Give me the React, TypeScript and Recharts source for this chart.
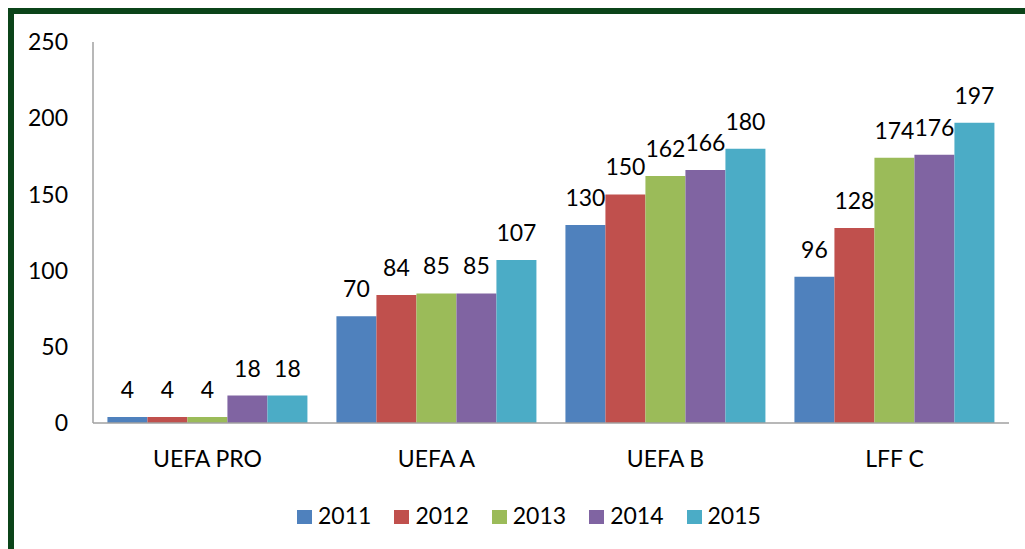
import React from 'react';
import { BarChart, Bar, XAxis, YAxis, Legend, LabelList } from 'recharts';

const categories = ['UEFA PRO', 'UEFA A', 'UEFA B', 'LFF C'];
const seriesNames = ['2011', '2012', '2013', '2014', '2015'];
const values2011 = [4, 70, 130, 96];
const values2012 = [4, 84, 150, 128];
const values2013 = [4, 85, 162, 174];
const values2014 = [18, 85, 166, 176];
const values2015 = [18, 107, 180, 197];
const yTicks = [0, 50, 100, 150, 200, 250];
const colors = ['#4F81BD', '#C0504D', '#9BBB59', '#8064A2', '#4BACC6'];

const seriesValues = [values2011, values2012, values2013, values2014, values2015];
const data = categories.map((c, i) => {
  const row: Record<string, string | number> = { category: c };
  seriesNames.forEach((s, j) => {
    row[s] = seriesValues[j][i];
  });
  return row;
});

const FONT = 'Lato, "Open Sans", sans-serif';

const LegendContent = (props: any) => {
  const payload = props.payload || [];
  return (
    <div style={{ display: 'flex', alignItems: 'center', fontFamily: FONT, fontSize: 23, color: '#000' }}>
      {payload.map((p: any, i: number) => (
        <div key={i} style={{ display: 'flex', alignItems: 'center', marginRight: 23 }}>
          <div style={{ width: 15, height: 14, background: p.color, marginRight: 6, marginTop: 3 }} />
          <span style={{ lineHeight: '30px' }}>{p.value}</span>
        </div>
      ))}
    </div>
  );
};

export default function App() {
  return (
    <div style={{ position: 'fixed', left: 0, top: 0, width: 1025, height: 549, overflow: 'hidden', background: '#fff' }}>
      <div
        style={{
          position: 'absolute',
          left: 8,
          top: 8,
          width: 1100,
          height: 700,
          borderLeft: '6px solid #0B4419',
          borderTop: '6px solid #0B4419',
          boxSizing: 'border-box',
        }}
      />
      <div style={{ position: 'absolute', left: 0, top: 0 }}>
        <BarChart
          width={1025}
          height={549}
          data={data}
          margin={{ top: 42, right: 16, bottom: 19, left: 0 }}
          barGap={0}
          barCategoryGap="6.3%"
        >
          <XAxis
            dataKey="category"
            height={77}
            tickLine={false}
            axisLine={{ stroke: '#A0A0A0', strokeWidth: 1.5 }}
            tick={{ fill: '#000', fontSize: 23, fontFamily: FONT }}
            tickMargin={22}
          />
          <YAxis
            width={93}
            domain={[0, 250]}
            ticks={yTicks}
            interval={0}
            tickLine={false}
            axisLine={{ stroke: '#A0A0A0', strokeWidth: 1.5 }}
            tick={{ fill: '#000', fontSize: 23, fontFamily: FONT }}
            tickMargin={19}
          />
          <Legend
            verticalAlign="bottom"
            content={<LegendContent />}
            wrapperStyle={{ left: 297, width: 600, height: 30 }}
          />
          {seriesNames.map((s, j) => (
            <Bar key={s} dataKey={s} name={s} fill={colors[j]} isAnimationActive={false}>
              <LabelList
                dataKey={s}
                position="top"
                offset={19}
                style={{ fill: '#000', fontSize: 23, fontFamily: FONT }}
              />
            </Bar>
          ))}
        </BarChart>
      </div>
    </div>
  );
}
